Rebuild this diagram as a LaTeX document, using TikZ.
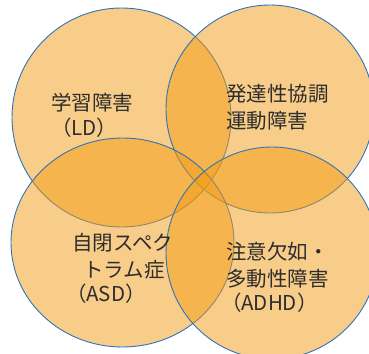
\documentclass[tikz,border=0pt]{standalone}
\usepackage{fontspec}
\newfontfamily\jp{Noto Sans CJK JP}
\definecolor{blobfill}{RGB}{242,155,20}
\definecolor{blobline}{RGB}{46,117,182}
\definecolor{txt}{RGB}{45,45,45}
\begin{document}
\begin{tikzpicture}[x=1pt,y=-1pt,
  blob/.style={draw=blobline,line width=0.9pt,fill=blobfill,fill opacity=0.5},
  lbl/.style={inner sep=0pt,outer sep=0pt,text=txt,font=\jp\fontsize{20.5}{24}\selectfont}]
\useasboundingbox (0,0) rectangle (369,353);
\clip (0,0) rectangle (369,353);
\draw[blob] (121.5,117.5) circle[radius=109.5];
\draw[blob] (270,109) circle[radius=104];
\draw[blob] (122.5,242.5) ellipse[x radius=111.5,y radius=104.5];
\draw[blob] (272,253) circle[radius=106];
% LD
\node[lbl,anchor=west] (ld1) at (51,103) {学習障害};
\node[lbl,anchor=west] (ld2) at (51,128) {（LD）};
% DCD
\node[lbl,anchor=west] (dcd1) at (226,94) {発達性協調};
\node[lbl,anchor=west] (dcd2) at (226,121) {運動障害};
% ASD
\node[lbl,anchor=west] (asd1) at (72,243) {自閉スペク};
\node[lbl,anchor=center] (asd2) at (124,270) {トラム症};
\node[lbl,anchor=west] (asd3) at (66,294) {（ASD）};
% ADHD
\node[lbl,anchor=west] (adhd1) at (226,252) {注意欠如・};
\node[lbl,anchor=west] (adhd2) at (226,279) {多動性障害};
\node[lbl,anchor=west] (adhd3) at (221,303) {（ADHD）};
\end{tikzpicture}
\end{document}
